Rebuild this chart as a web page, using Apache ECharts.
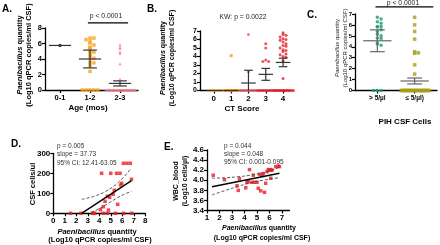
<!DOCTYPE html>
<html>
<head>
<meta charset="utf-8">
<script src="https://cdn.jsdelivr.net/npm/echarts@6/dist/echarts.min.js"></script>
<style>
  html, body { margin: 0; padding: 0; background: #fff; }
  #chart { width: 440px; height: 245px; }
</style>
</head>
<body>
<div id="chart"></div>
<script>
// values
const ageGroups = ['0-1', '1-2', '2-3']
const age01 = [5.75]
const age12 = [6.7, 6.7, 6.5, 6.3, 6.0, 5.8, 5.5, 5.4, 5.0, 4.9, 4.6, 4.2, 4.1, 3.6, 3.5, 3.2, 2.4, 0, 0, 0, 0, 0]
const age23 = [5.8, 5.5, 5.4, 4.9, 4.7, 3.4, 1.4,
  0, 0, 0, 0, 0, 0, 0, 0, 0, 0, 0, 0, 0, 0, 0, 0, 0, 0, 0, 0, 0, 0, 0, 0]
const ageMean = [5.75, 4.0, 0.85]
const ageSem = [0, 1.15, 0.33]

const ctScores = ['0', '1', '2', '3', '4']
const ct0 = [0, 0, 0, 0]
const ct1 = [4.1, 0, 0, 0, 0, 0, 0, 0, 0, 0]
const ct2 = [6.6, 2.2, 0, 0, 0, 0, 0, 0, 0]
const ct3 = [5.5, 5.0, 3.6, 3.4, 3.4, 0, 0, 0, 0, 0, 0, 0, 0, 0]
const ct4 = [6.8, 6.6, 6.5, 6.3, 6.1, 6.0, 5.9, 5.7, 5.5, 5.3, 5.2, 5.0, 4.8, 4.7, 4.6, 4.3, 4.2, 4.0, 3.9, 3.5, 1.4,
  0, 0, 0, 0, 0, 0, 0, 0, 0, 0, 0, 0]
const ctMean = [0, 0, 0.88, 1.9, 3.3]
const ctSem = [0, 0, 1.5, 0.7, 0.5]

const cellGroups = ['> 5/µl', '≤ 5/µl)']
const cellsHigh = [6.7, 6.55, 6.3, 6.15, 5.85, 5.8, 5.85, 5.55, 5.4, 5.15, 5.0, 4.8, 4.75, 4.35, 4.25, 4.15, 0, 0, 0]
const cellsLow = [6.7, 6.0, 5.4, 4.7, 3.55, 3.45, 3.4, 2.35, 1.5,
  0, 0, 0, 0, 0, 0, 0, 0, 0, 0, 0, 0, 0, 0, 0, 0, 0, 0, 0, 0, 0, 0, 0, 0, 0, 0]
const cellMean = [4.55, 0.87]
const cellSem = [1.0, 0.27]

// D: [log10 copies, CSF cells/ul]
const csfPoints = [[4.2, 200], [5.0, 200], [5.5, 200], [5.8, 200], [6.1, 250], [6.4, 250], [6.7, 250],
  [6.8, 170], [5.95, 150], [5.85, 142], [5.3, 115], [5.2, 95], [4.9, 80], [4.7, 85], [4.5, 60], [4.35, 33],
  [4.1, 18], [5.6, 45], [4.8, 16],
  [1.5, 0], [2.4, 0], [3.4, 0], [3.5, 0], [3.6, 0], [4.35, 0], [4.7, 0], [5.4, 0], [6.1, 0], [6.8, 0]]
const csfFit = [[2.46, 0], [6.8, 163]]
const csfCiUpper = [[2.47, 70], [3.5, 84], [4.5, 108], [5.4, 142], [6.1, 180], [6.7, 220]]
const csfCiLower = [[3.3, 3], [4.05, 25], [4.8, 50], [5.5, 75], [6.2, 96], [6.8, 110]]
const csfNotes = ['p = 0.005', 'slope = 37.73', '95% CI: 12.41-63.05']

// E: [log10 copies, log10 WBC]
const wbcPoints = [[1.5, 4.10], [2.4, 4.01], [3.4, 3.89], [3.5, 3.80], [3.6, 4.03], [4.1, 3.85], [4.2, 3.96],
  [4.3, 3.97], [4.4, 4.21], [4.6, 3.96], [4.7, 4.10], [4.8, 3.96], [5.0, 3.96], [5.1, 3.84], [5.2, 4.12],
  [5.3, 3.79], [5.4, 4.10], [5.6, 3.76], [5.5, 4.13], [5.7, 3.94], [5.8, 4.17], [5.9, 4.21], [6.0, 4.20],
  [6.1, 4.21], [6.1, 4.04], [6.2, 4.20], [6.5, 4.27], [6.7, 4.28], [6.8, 4.27]]
const wbcFit = [[1.4, 3.87], [6.8, 4.14]]
const wbcCiUpper = [[1.4, 4.04], [2.5, 4.05], [3.5, 4.07], [4.5, 4.1], [5.5, 4.15], [6.2, 4.2], [6.8, 4.26]]
const wbcCiLower = [[1.4, 3.71], [2.5, 3.80], [3.5, 3.88], [4.5, 3.95], [5.5, 4.0], [6.2, 4.03], [6.8, 4.05]]
const wbcNotes = ['p = 0.044', 'slope = 0.048', '95% CI: 0.001-0.095']

const FONT = '"Liberation Sans", Arial, sans-serif'

// simple beeswarm: points in the same value bin get spread sideways
function swarm(x, values, dx, maxSpread, bin) {
  const bins = {}
  values.forEach(v => {
    const b = Math.round(v / bin)
    ;(bins[b] = bins[b] || []).push(v)
  })
  const out = []
  Object.values(bins).forEach(list => {
    const step = Math.min(dx, maxSpread / Math.max(1, (list.length - 1) / 2))
    list.forEach((v, k) => {
      const off = k === 0 ? 0 : (k % 2 ? (k + 1) / 2 : -k / 2)
      out.push([x + off * step, v])
    })
  })
  return out
}

function dots(idx, data, color, symbol, size) {
  return {
    type: 'scatter', xAxisIndex: idx, yAxisIndex: idx, data, symbol, symbolSize: size,
    itemStyle: { color }, clip: false, silent: true, z: 3
  }
}

function errorBars(idx, means, sems, color, halfMean, halfCap) {
  return {
    type: 'custom', xAxisIndex: idx, yAxisIndex: idx, z: 5, silent: true,
    data: means.map((m, i) => [i, m, sems[i]]),
    renderItem(params, api) {
      const x = api.value(0), m = api.value(1), e = api.value(2)
      const style = { stroke: color, lineWidth: 1.2, fill: null }
      const seg = (x1, y1, x2, y2) => {
        const a = api.coord([x1, y1]), b = api.coord([x2, y2])
        return { type: 'line', shape: { x1: a[0], y1: a[1], x2: b[0], y2: b[1] }, style }
      }
      const children = [seg(x - halfMean, m, x + halfMean, m)]
      if (e > 0) {
        const lo = Math.max(m - e, 0)
        children.push(seg(x, lo, x, m + e), seg(x - halfCap, m + e, x + halfCap, m + e))
        if (lo > 0) children.push(seg(x - halfCap, lo, x + halfCap, lo))
      }
      return { type: 'group', children }
    }
  }
}

function line(idx, data, color, dashed, width) {
  return {
    type: 'line', xAxisIndex: idx, yAxisIndex: idx, data, symbol: 'none', smooth: dashed ? 0.4 : false,
    lineStyle: { color, width, type: dashed ? [3, 2] : 'solid' }, clip: false, silent: true, z: 4
  }
}

function axis(size, extra) {
  return Object.assign({
    type: 'value',
    axisLine: { show: true, onZero: false, lineStyle: { color: '#000', width: 1.3 } },
    axisTick: { show: true, length: 3, lineStyle: { color: '#000', width: 1.2 } },
    axisLabel: { color: '#000', fontWeight: 'bold', fontSize: size, fontFamily: FONT, margin: 3 },
    splitLine: { show: false }
  }, extra)
}

function catAxis(size, min, max, names) {
  const vals = names.map((n, i) => i)
  return axis(size, {
    min, max,
    axisTick: { show: true, length: 3, customValues: vals, lineStyle: { color: '#000', width: 1.2 } },
    axisLabel: {
      color: '#000', fontWeight: 'bold', fontSize: size, fontFamily: FONT, margin: 4,
      customValues: vals, formatter: v => names[Math.round(v)]
    }
  })
}

function txt(x, y, text, size, opts = {}) {
  const weight = opts.weight || 'normal'
  return {
    type: 'text', x, y, rotation: opts.rot || 0, silent: true,
    style: {
      text, fill: opts.color || '#000', fontSize: size, fontFamily: FONT, fontWeight: weight,
      align: opts.align || 'center', verticalAlign: 'middle',
      rich: {
        i: { fontStyle: 'italic', fontSize: size, fontFamily: FONT, fontWeight: weight, fill: opts.color || '#000' },
        n: { fontSize: size, fontFamily: FONT, fontWeight: weight, fill: opts.color || '#000' }
      }
    }
  }
}

const ROT = Math.PI / 2
const speciesLine = '{i|Paenibacillus}{n| quantity}'
const unitLine = '{n|(Log10 qPCR copies/ml CSF)}'

const option = {
  backgroundColor: '#fff',
  animation: false,
  grid: [
    { left: 45, top: 28, width: 93, height: 62 },
    { left: 200, top: 31, width: 90, height: 59.5 },
    { left: 355, top: 14, width: 82, height: 76.5 },
    { left: 53.3, top: 153.3, width: 92, height: 60 },
    { left: 207, top: 150, width: 82.5, height: 60.5 }
  ],
  xAxis: [
    Object.assign(catAxis(7.5, -0.5, 2.6, ageGroups), { gridIndex: 0 }),
    Object.assign(catAxis(8, -0.8, 4.4, ctScores), { gridIndex: 1 }),
    Object.assign(catAxis(6.5, -0.6, 1.6, cellGroups), { gridIndex: 2 }),
    axis(8, { gridIndex: 3, min: 0, max: 8, interval: 1 }),
    axis(8, {
      gridIndex: 4, min: 1, max: 7.6,
      axisTick: { show: true, length: 3, customValues: [1, 2, 3, 4, 5, 6, 7], lineStyle: { color: '#000', width: 1.2 } },
      axisLabel: { color: '#000', fontWeight: 'bold', fontSize: 8, fontFamily: FONT, margin: 3, customValues: [1, 2, 3, 4, 5, 6, 7] }
    })
  ],
  yAxis: [
    axis(7.5, { gridIndex: 0, min: 0, max: 8, interval: 2 }),
    axis(7, { gridIndex: 1, min: 0, max: 7, interval: 1 }),
    axis(6, { gridIndex: 2, min: 0, max: 7, interval: 1 }),
    axis(8, { gridIndex: 3, min: 0, max: 300, interval: 100 }),
    axis(8, {
      gridIndex: 4, min: 3.4, max: 4.6, interval: 0.2,
      axisLabel: { color: '#000', fontWeight: 'bold', fontSize: 8, fontFamily: FONT, margin: 3, formatter: v => v.toFixed(1) }
    })
  ],
  series: [
    // A
    dots(0, swarm(0, age01, 0.13, 0.5, 0.35), '#111', 'circle', 3.5),
    dots(0, swarm(1, age12, 0.13, 0.3, 0.35), '#f7a21b', 'rect', 3.5),
    dots(0, swarm(2, age23, 0.13, 0.5, 0.35), '#f37b8a', 'triangle', 3),
    errorBars(0, ageMean, ageSem, '#333', 0.37, 0.23),
    line(0, [[0.93, 8.65], [2.27, 8.65]], '#000', false, 1.2),
    // B
    dots(1, swarm(0, ct0, 0.17, 0.35, 0.4), '#f6b94a', 'rect', 3),
    dots(1, swarm(1, ct1, 0.17, 0.4, 0.4), '#f7931e', 'rect', 3),
    dots(1, swarm(2, ct2, 0.17, 0.45, 0.4), '#ea5b6b', 'circle', 3),
    dots(1, swarm(3, ct3, 0.17, 0.45, 0.4), '#ee2d36', 'circle', 3),
    dots(1, swarm(4, ct4, 0.17, 0.55, 0.4), '#e8202a', 'circle', 3),
    errorBars(1, ctMean, ctSem, '#333', 0.42, 0.25),
    // C
    dots(2, swarm(0, cellsHigh, 0.1, 0.25, 0.3), '#1c9e6a', 'circle', 3.5),
    dots(2, swarm(1, cellsLow, 0.1, 0.38, 0.3), '#a89e19', 'rect', 3.5),
    errorBars(2, cellMean, cellSem, '#666', 0.38, 0.2),
    line(2, [[-0.05, 7.66], [1.5, 7.66]], '#000', false, 1.2),
    // D
    dots(3, csfPoints, '#ee1c25', 'rect', 3.5),
    line(3, csfFit, '#000', false, 1.4),
    line(3, csfCiUpper, '#444', true, 0.9),
    line(3, csfCiLower, '#444', true, 0.9),
    // E
    dots(4, wbcPoints, '#ee1c25', 'rect', 3.5),
    line(4, wbcFit, '#000', false, 1.5),
    line(4, wbcCiUpper, '#444', true, 0.9),
    line(4, wbcCiLower, '#444', true, 0.9)
  ],
  graphic: [
    // panel letters
    txt(2, 9, 'A.', 10, { weight: 'bold', align: 'left' }),
    txt(147, 9, 'B.', 10, { weight: 'bold', align: 'left' }),
    txt(307, 15, 'C.', 10, { weight: 'bold', align: 'left' }),
    txt(11, 144, 'D.', 10, { weight: 'bold', align: 'left' }),
    txt(164, 147, 'E.', 10, { weight: 'bold', align: 'left' }),
    // A
    txt(20, 55, speciesLine, 7.5, { weight: 'bold', rot: ROT }),
    txt(29, 55, unitLine, 7.5, { weight: 'bold', rot: ROT }),
    txt(88, 108, 'Age (mos)', 8, { weight: 'bold' }),
    txt(106, 16, 'p < 0.0001', 6.8, { color: '#222' }),
    // B
    txt(163, 58, speciesLine, 7, { weight: 'bold', rot: ROT }),
    txt(172, 58, unitLine, 7, { weight: 'bold', rot: ROT }),
    txt(242, 109, 'CT Score', 8, { weight: 'bold' }),
    txt(243, 17, 'KW: p = 0.0022', 6.8, { color: '#222' }),
    // C
    txt(337, 48, speciesLine, 6, { rot: ROT, color: '#222' }),
    txt(345, 48, unitLine, 6, { rot: ROT, color: '#222' }),
    txt(405, 122, 'PIH CSF Cells', 8, { weight: 'bold' }),
    txt(403, 3, 'p < 0.0001', 6.8, { color: '#222' }),
    // D
    txt(33, 184, 'CSF cells/ul', 7.5, { weight: 'bold', rot: ROT }),
    txt(97, 231.5, speciesLine, 7.5, { weight: 'bold' }),
    txt(100, 240, unitLine, 7.5, { weight: 'bold' }),
    ...csfNotes.map((t, i) => txt(57, 146 + i * 8.5, t, 6.5, { align: 'left', color: '#333' })),
    // E
    txt(176, 181, 'WBC_blood', 7, { weight: 'bold', rot: ROT }),
    txt(185, 181, '(Log10 cells/µl)', 7, { weight: 'bold', rot: ROT }),
    txt(259, 228, speciesLine, 7, { weight: 'bold' }),
    txt(262, 238, unitLine, 7, { weight: 'bold' }),
    ...wbcNotes.map((t, i) => txt(224, 146 + i * 8.3, t, 6.5, { align: 'left', color: '#333' }))
  ]
}

const chart = echarts.init(document.getElementById('chart'), null, { renderer: 'canvas' })
chart.setOption(option)
</script>
</body>
</html>
